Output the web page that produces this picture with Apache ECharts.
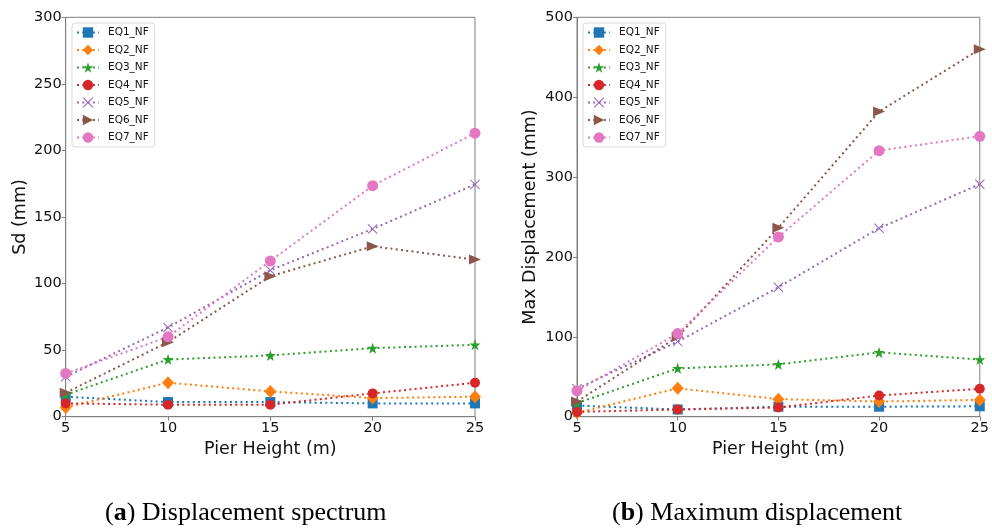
<!DOCTYPE html>
<html>
<head>
<meta charset="utf-8">
<script src="https://cdn.jsdelivr.net/npm/echarts@6/dist/echarts.min.js"></script>
<style>html,body{margin:0;padding:0;background:#fff;}#c{width:992px;height:531px;}</style>
</head>
<body>
<div id="c"></div>
<script>
const pierHeights = [5, 10, 15, 20, 25];
const seriesNames = ['EQ1_NF','EQ2_NF','EQ3_NF','EQ4_NF','EQ5_NF','EQ6_NF','EQ7_NF'];

// (a) Displacement spectrum Sd (mm)
const sdEQ1 = [15, 11, 11, 10, 10];
const sdEQ2 = [7, 25.5, 19, 14, 15];
const sdEQ3 = [16.5, 43, 46, 51.5, 54];
const sdEQ4 = [10, 9, 9, 17.5, 25.5];
const sdEQ5 = [30, 67, 110, 141, 174.5];
const sdEQ6 = [18, 56, 105.5, 128, 118];
const sdEQ7 = [32.5, 60, 117, 173.5, 213];

// (b) Maximum displacement (mm)
const mdEQ1 = [14, 9, 12.5, 12.5, 13];
const mdEQ2 = [5, 35.5, 22, 19, 21];
const mdEQ3 = [17, 60.5, 65.5, 80.5, 71.5];
const mdEQ4 = [6, 9, 11.5, 26.5, 35];
const mdEQ5 = [35, 94, 162, 236, 291];
const mdEQ6 = [19, 100, 236.5, 382, 460];
const mdEQ7 = [32.5, 104, 225, 333, 351];

const sdTicks = [0, 50, 100, 150, 200, 250, 300];
const mdTicks = [0, 100, 200, 300, 400, 500];

const sdData = [sdEQ1, sdEQ2, sdEQ3, sdEQ4, sdEQ5, sdEQ6, sdEQ7];
const mdData = [mdEQ1, mdEQ2, mdEQ3, mdEQ4, mdEQ5, mdEQ6, mdEQ7];

const colors = ['#1f77b4','#ff7f0e','#2ca02c','#d62728','#9467bd','#8c564b','#e377c2'];
const starPath = 'path://M0,-10 L2.35,-3.24 L9.51,-3.09 L3.8,1.24 L5.88,8.09 L0,4 L-5.88,8.09 L-3.8,1.24 L-9.51,-3.09 L-2.35,-3.24 Z';
const xPath = 'path://M-10,-8.6 L-8.6,-10 L0,-1.4 L8.6,-10 L10,-8.6 L1.4,0 L10,8.6 L8.6,10 L0,1.4 L-8.6,10 L-10,8.6 L-1.4,0 Z';
const symbols = [
  {symbol:'rect', size:10, rotate:0},
  {symbol:'diamond', size:[12,13], rotate:0},
  {symbol:starPath, size:11, rotate:0},
  {symbol:'circle', size:10, rotate:0},
  {symbol:xPath, size:10, rotate:0},
  {symbol:'triangle', size:[10,12], rotate:-90},
  {symbol:'circle', size:11, rotate:0}
];

const FONT = 'DejaVu Sans';
const TXT = '#111';
const frameColor = '#7f7f7f';

function makeX(gi) {
  return {
    type:'value', gridIndex:gi, min:5, max:25, interval:5,
    name:'Pier Height (m)', nameLocation:'middle', nameGap:24,
    nameTextStyle:{fontFamily:FONT, fontSize:17.5, color:TXT},
    axisLine:{show:true, onZero:false, lineStyle:{color:frameColor, width:1}},
    axisTick:{show:true, inside:false, length:4, lineStyle:{color:frameColor}},
    axisLabel:{fontFamily:FONT, fontSize:14.5, color:TXT, margin:4},
    splitLine:{show:false}
  };
}
function makeY(gi, ticks, name, gap) {
  return {
    type:'value', gridIndex:gi, min:ticks[0], max:ticks[ticks.length-1],
    interval:ticks[1]-ticks[0],
    name:name, nameLocation:'middle', nameGap:gap, nameRotate:90,
    nameTextStyle:{fontFamily:FONT, fontSize:17.5, color:TXT},
    axisLine:{show:true, onZero:false, lineStyle:{color:frameColor, width:1}},
    axisTick:{show:true, inside:false, length:4, lineStyle:{color:frameColor}},
    axisLabel:{fontFamily:FONT, fontSize:14.5, color:TXT, margin:4},
    splitLine:{show:false}
  };
}

const series = [];
[sdData, mdData].forEach((dataset, gi) => {
  dataset.forEach((vals, i) => {
    series.push({
      type:'line', name:seriesNames[i], xAxisIndex:gi, yAxisIndex:gi,
      data: pierHeights.map((h, k) => [h, vals[k]]),
      symbol: symbols[i].symbol, symbolSize: symbols[i].size, symbolRotate: symbols[i].rotate,
      showAllSymbol:true, clip:false,
      lineStyle:{color:colors[i], width:2, type:[2,3.3], cap:'butt'},
      itemStyle:{color:colors[i], borderWidth:0},
      emphasis:{disabled:true},
      animation:false
    });
  });
});

function makeLegend(left) {
  return {
    orient:'vertical', left:left, top:23,
    data: seriesNames,
    itemWidth:22, itemHeight:13, itemGap:6.5,
    padding:[4,6,4,4],
    backgroundColor:'rgba(255,255,255,0.85)',
    borderColor:'#d9d9d9', borderWidth:1, borderRadius:3,
    textStyle:{fontFamily:FONT, fontSize:10.5, color:TXT, padding:[0,0,0,4]},
    selectedMode:false
  };
}

const chart = echarts.init(document.getElementById('c'), null, {renderer:'canvas'});
chart.setOption({
  backgroundColor:'#fff',
  animation:false,
  grid:[
    {left:65.7, top:17.3, width:409.3, height:399.4, show:true, borderColor:frameColor, borderWidth:1, backgroundColor:'transparent'},
    {left:577, top:17.3, width:409, height:399.4, show:true, borderColor:frameColor, borderWidth:1, backgroundColor:'transparent'}
  ],
  xAxis:[makeX(0), makeX(1)],
  yAxis:[makeY(0, sdTicks, 'Sd (mm)', 36), makeY(1, mdTicks, 'Max Displacement (mm)', 38)],
  legend:[makeLegend(72), makeLegend(583)],
  series: series,
  graphic:[
    {type:'text', left:105, top:500, style:{
      text:'{n|(}{b|a}{n|) Displacement spectrum}',
      rich:{n:{fontFamily:'Liberation Serif', fontSize:26, fill:'#000'}, b:{fontFamily:'Liberation Serif', fontSize:26, fontWeight:'bold', fill:'#000'}}
    }},
    {type:'text', left:612, top:500, style:{
      text:'{n|(}{b|b}{n|) Maximum displacement}',
      rich:{n:{fontFamily:'Liberation Serif', fontSize:26, fill:'#000'}, b:{fontFamily:'Liberation Serif', fontSize:26, fontWeight:'bold', fill:'#000'}}
    }}
  ]
});
</script>
</body>
</html>
